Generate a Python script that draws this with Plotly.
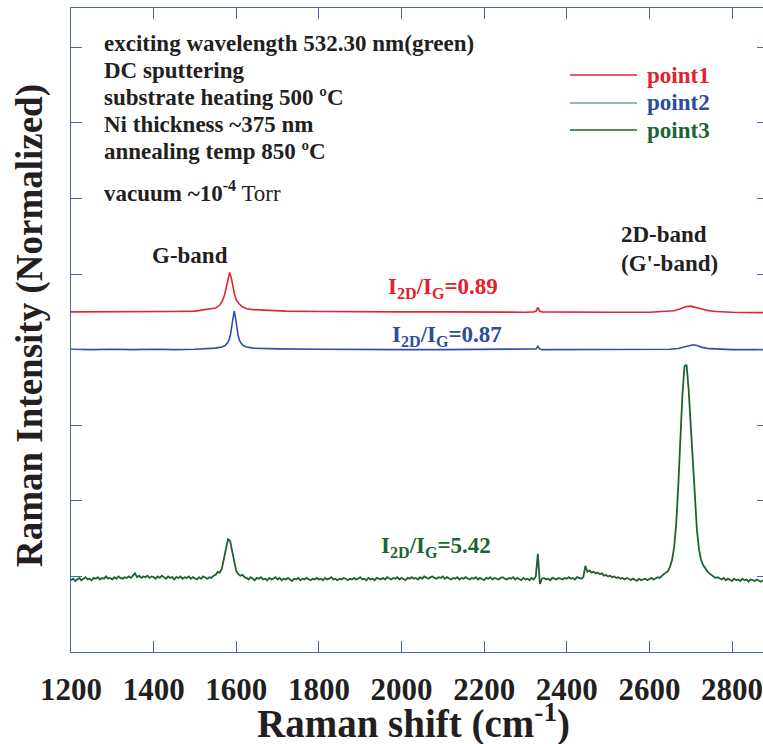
import numpy as np
import plotly.graph_objects as go

# ---------------- data ----------------
x_ticks = [1200, 1400, 1600, 1800, 2000, 2200, 2400, 2600, 2800]
y_ticks = [0, 1, 2, 3, 4, 5, 6, 7, 8]

# point1 (red) – offset spectrum
red_x = [1200, 1250, 1300, 1350, 1400, 1450, 1500, 1530, 1550, 1560, 1566, 1572, 1576,
         1580, 1584, 1588, 1592, 1596, 1600, 1606, 1614, 1625, 1640, 1670, 1720, 1800,
         1900, 2000, 2100, 2200, 2300, 2320, 2326, 2330, 2334, 2340, 2400, 2500, 2600,
         2640, 2660, 2675, 2690, 2700, 2710, 2725, 2740, 2760, 2800, 2875]
red_y = [4.50, 4.50, 4.505, 4.50, 4.50, 4.505, 4.51, 4.53, 4.55, 4.59, 4.64, 4.73, 4.83,
         4.95, 5.02, 4.95, 4.83, 4.73, 4.66, 4.61, 4.57, 4.54, 4.53, 4.52, 4.51, 4.505,
         4.50, 4.50, 4.50, 4.495, 4.495, 4.50, 4.51, 4.56, 4.51, 4.50, 4.495, 4.495, 4.495,
         4.505, 4.515, 4.54, 4.57, 4.576, 4.565, 4.54, 4.52, 4.505, 4.495, 4.49]

# point2 (blue)
blue_x = [1200, 1250, 1300, 1350, 1400, 1450, 1500, 1550, 1565, 1573, 1579, 1583, 1586,
          1589, 1592, 1595, 1598, 1601, 1604, 1607, 1611, 1617, 1625, 1640, 1700, 1800,
          1900, 2000, 2100, 2200, 2300, 2320, 2326, 2330, 2334, 2340, 2400, 2500, 2600,
          2650, 2670, 2685, 2697, 2706, 2715, 2728, 2745, 2765, 2800, 2875]
blue_y = [4.005, 4.00, 4.005, 4.00, 4.005, 4.00, 4.005, 4.02, 4.035, 4.055, 4.09, 4.135, 4.20,
          4.30, 4.43, 4.51, 4.43, 4.30, 4.20, 4.135, 4.09, 4.055, 4.035, 4.02, 4.01, 4.005,
          4.00, 4.00, 4.00, 4.00, 4.00, 4.00, 4.01, 4.045, 4.01, 4.00, 4.00, 4.00, 4.00,
          4.005, 4.015, 4.035, 4.058, 4.065, 4.055, 4.03, 4.013, 4.005, 4.00, 4.00]

# point3 (green) sampled every 5 cm-1 from 1200 to 2875
green_y = [
    # 1200-1545
    0.95, 0.97, 0.94, 0.96, 0.98, 0.95, 0.97, 0.99, 0.96, 0.97,
    0.95, 0.98, 0.97, 0.99, 0.96, 0.98, 0.97, 1.00, 0.97, 0.98,
    0.96, 0.99, 0.97, 1.00, 0.98, 0.97, 0.99, 0.98, 1.00, 0.98,
    1.01, 1.04, 0.99, 1.01, 0.98, 1.00, 0.99, 1.01, 0.98, 1.00,
    0.99, 0.97, 1.00, 0.98, 1.01, 0.99, 0.97, 1.00, 0.98, 0.99,
    0.96, 0.99, 0.98, 1.00, 0.97, 0.99, 0.98, 1.00, 0.97, 0.99,
    0.98, 0.96, 0.99, 0.97, 1.00, 0.98, 0.97, 0.99, 0.98, 1.01,
    # 1550-1565
    1.02, 1.06, 1.05, 1.10,
    # G band 1570-1620
    1.24, 1.39, 1.49, 1.47, 1.33, 1.17, 1.07, 1.03, 1.01, 1.02, 0.99,
    # 1625-2320
    0.98, 0.96, 0.99, 0.97, 0.95, 0.98, 0.97, 0.99, 0.96, 0.97,
    0.95, 0.98, 0.96, 0.97, 0.99, 0.96, 0.98, 0.95, 0.97, 0.96,
    0.98, 0.96, 0.94, 0.97, 0.96, 0.98, 0.95, 0.97, 0.96, 0.98,
    0.97, 0.95, 0.97, 0.96, 0.98, 0.96, 0.97, 0.95, 0.98, 0.96,
    0.97, 0.99, 0.96, 0.97, 0.95, 0.97, 0.96, 0.98, 0.97, 0.95,
    0.97, 0.96, 0.98, 0.96, 0.97, 0.99, 0.96, 0.97, 0.95, 0.98,
    0.96, 0.97, 0.95, 0.98, 0.97, 0.96, 0.98, 0.96, 0.99, 0.97,
    0.96, 0.98, 0.97, 0.99, 0.96, 0.98, 0.97, 0.95, 0.98, 0.97,
    0.99, 0.97, 0.98, 0.96, 0.99, 0.97, 1.00, 0.98, 0.97, 0.99,
    1.00, 0.98, 0.97, 0.99, 0.98, 1.00, 0.97, 0.99, 0.98, 0.96,
    0.98, 0.97, 0.99, 0.96, 0.98, 0.97, 0.99, 0.97, 0.96, 0.98,
    0.97, 0.99, 0.96, 0.98, 0.97, 0.95, 0.98, 0.97, 0.99, 0.96,
    0.98, 0.97, 0.96, 0.98, 0.99, 0.97, 0.96, 0.98, 0.97, 0.99,
    0.96, 0.98, 0.97, 0.95, 0.98, 0.96, 0.97, 0.95, 0.98, 0.96,
    # 2325-2335 spike
    1.00, 1.30, 0.90,
    # 2340-2435
    0.97, 0.98, 0.96, 0.97, 0.95, 0.98, 0.97, 0.96, 0.98, 0.97,
    0.96, 0.98, 0.97, 0.99, 0.97, 0.98, 0.96, 0.99, 0.98, 0.97,
    # 2440-2485
    0.99, 1.14, 1.06, 1.08, 1.05, 1.06, 1.04, 1.05, 1.03, 1.04,
    # 2490-2535
    1.01, 1.02, 1.00, 1.01, 0.99, 1.00, 0.98, 0.99, 0.97, 0.98,
    # 2540-2585
    0.96, 0.98, 0.97, 0.95, 0.97, 0.96, 0.94, 0.97, 0.95, 0.96,
    # 2590-2635
    0.97, 0.95, 0.96, 0.98, 0.96, 0.97, 0.99, 0.98, 1.01, 1.03,
    # 2D band 2640-2750
    1.05, 1.07, 1.13, 1.22, 1.39, 1.70, 2.21, 2.84, 3.41, 3.78, 3.80, 3.47,
    3.01, 2.47, 1.99, 1.62, 1.36, 1.22, 1.15, 1.10, 1.07, 1.04, 1.02,
    # 2755-2875
    1.00, 0.98, 0.99, 0.97, 0.96, 0.98, 0.95, 0.97, 0.96, 0.94,
    0.97, 0.95, 0.96, 0.94, 0.97, 0.95, 0.96, 0.93, 0.96, 0.95,
    0.94, 0.96, 0.95, 0.93, 0.95,
]
green_x = list(range(1200, 2880, 5))
assert len(green_x) == len(green_y)

series_names = ["point1", "point2", "point3"]
line_colors = ["#e3262e", "#2f4ea6", "#1d6332"]
label_colors = ["#e3212b", "#2e4c9e", "#1b6535"]
legend_line_colors = ["#e3262e", "#7d90cc", "#1d6332"]
ratio_texts = ["I<sub>2D</sub>/I<sub>G</sub>=0.89",
               "I<sub>2D</sub>/I<sub>G</sub>=0.87",
               "I<sub>2D</sub>/I<sub>G</sub>=5.42"]
info_lines = ["exciting wavelength 532.30 nm(green)",
              "DC sputtering",
              "substrate heating 500 ºC",
              "Ni thickness ~375 nm",
              "annealing temp 850 ºC"]

# ---------------- figure ----------------
W, H = 763, 744
L, R, T, B = 71, 0, 8, 92
PW, PH = W - L - R, H - T - B


def px(xp):
    return (xp - L) / PW


def py(yp):
    return (H - B - yp) / PH


AX = "#4d63b0"
SERIF = "Liberation Serif"
TXT = "#231f20"

fig = go.Figure()
for xs, ys, c, n, w in [(red_x, red_y, line_colors[0], series_names[0], 1.6),
                        (blue_x, blue_y, line_colors[1], series_names[1], 1.6),
                        (green_x, green_y, line_colors[2], series_names[2], 1.8)]:
    fig.add_trace(go.Scatter(x=xs, y=ys, mode="lines", name=n,
                             line=dict(color=c, width=w), showlegend=False))
# invisible helper so the right-hand tick axis is drawn
fig.add_trace(go.Scatter(x=[green_x[0]], y=[green_y[0]], yaxis="y2", mode="markers",
                         marker=dict(opacity=0), hoverinfo="skip", showlegend=False))

fig.update_layout(
    width=W, height=H,
    margin=dict(l=L, r=R, t=T, b=B, pad=0),
    paper_bgcolor="white", plot_bgcolor="white",
    xaxis=dict(range=[1200, 2875], tickvals=x_ticks, ticks="inside", ticklen=11,
               tickcolor=AX, tickwidth=1, showline=True, linecolor=AX, linewidth=1.2,
               mirror="ticks", showgrid=False, zeroline=False,
               tickfont=dict(family=SERIF, size=31, color=TXT, weight="bold"),
               ticklabelstandoff=10, ticklabeloverflow="allow"),
    yaxis=dict(range=[0, 8.52], tickvals=y_ticks, ticks="inside", ticklen=11,
               tickcolor=AX, tickwidth=1, showline=True, linecolor=AX, linewidth=1.2,
               showticklabels=False, showgrid=False, zeroline=False),
    yaxis2=dict(range=[0, 8.52], tickvals=y_ticks, ticks="inside", ticklen=6,
                tickcolor=AX, tickwidth=1, showline=False, overlaying="y", side="right",
                showticklabels=False, showgrid=False, zeroline=False),
    showlegend=False,
)

ann = []
# axis titles
ann.append(dict(text="<b>Raman shift (cm<sup>-1</sup>)</b>", x=px(413), y=py(721),
                xref="paper", yref="paper", xanchor="center", yanchor="middle",
                showarrow=False, font=dict(family=SERIF, size=39, color=TXT)))
ann.append(dict(text="<b>Raman Intensity (Normalized)</b>", x=px(30), y=py(326),
                xref="paper", yref="paper", xanchor="center", yanchor="middle",
                textangle=-90, showarrow=False,
                font=dict(family=SERIF, size=37, color=TXT)))
# info block
for t, yy in zip(info_lines, [43, 70, 97, 124, 151]):
    ann.append(dict(text="<b>" + t + "</b>", x=px(102), y=py(yy), xref="paper", yref="paper",
                    xanchor="left", yanchor="middle", showarrow=False,
                    font=dict(family=SERIF, size=23, color=TXT)))
ann.append(dict(text="<b>vacuum ~10<sup>-4</sup></b> Torr", x=px(102), y=py(191),
                xref="paper", yref="paper", xanchor="left", yanchor="middle",
                showarrow=False, font=dict(family=SERIF, size=23, color=TXT)))
# band labels
ann.append(dict(text="<b>G-band</b>", x=px(190), y=py(256), xref="paper", yref="paper",
                xanchor="center", yanchor="middle", showarrow=False,
                font=dict(family=SERIF, size=23, color=TXT)))
ann.append(dict(text="<b>2D-band</b>", x=px(619), y=py(234), xref="paper", yref="paper",
                xanchor="left", yanchor="middle", showarrow=False,
                font=dict(family=SERIF, size=23, color=TXT)))
ann.append(dict(text="<b>(G'-band)</b>", x=px(619), y=py(263), xref="paper", yref="paper",
                xanchor="left", yanchor="middle", showarrow=False,
                font=dict(family=SERIF, size=23, color=TXT)))
# ratios
for t, c, (xx, yy) in zip(ratio_texts, label_colors, [(386, 288), (390, 336), (379, 547)]):
    ann.append(dict(text="<b>" + t + "</b>", x=px(xx), y=py(yy), xref="paper", yref="paper",
                    xanchor="left", yanchor="middle", showarrow=False,
                    font=dict(family=SERIF, size=23, color=c)))
# legend
shapes = []
for n, c, lc, yy in zip(series_names, label_colors, legend_line_colors, [75, 103, 130]):
    shapes.append(dict(type="line", xref="paper", yref="paper", x0=px(570), x1=px(637),
                       y0=py(yy), y1=py(yy), line=dict(color=lc, width=1.5)))
    ann.append(dict(text="<b>" + n + "</b>", x=px(645), y=py(yy), xref="paper", yref="paper",
                    xanchor="left", yanchor="middle", showarrow=False,
                    font=dict(family=SERIF, size=23, color=c)))

fig.update_layout(annotations=ann, shapes=shapes)
fig.write_html("out.html")
